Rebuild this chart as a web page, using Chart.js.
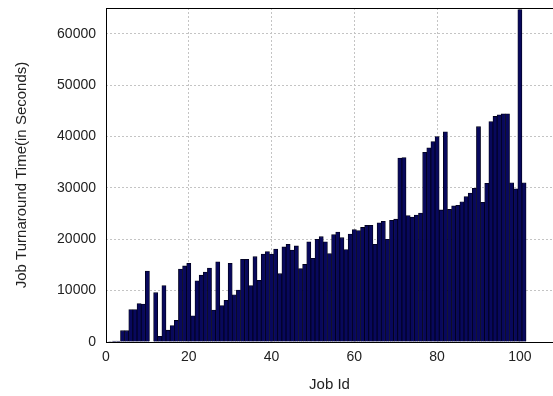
<!DOCTYPE html>
<html>
<head>
<meta charset="utf-8">
<script src="https://cdn.jsdelivr.net/npm/chart.js@4/dist/chart.umd.min.js"></script>
<style>
html,body{margin:0;padding:0;background:#fff;}
#wrap{width:553px;height:396px;position:relative;}
</style>
</head>
<body>
<div id="wrap"><canvas id="c" width="553" height="396"></canvas></div>
<script>
const jobIds = Array.from({length:101},(_,i)=>i+1);
const turnaround = [
  100, 200, 200, 2200, 2200, 6300, 6300, 7500, 7400, 13800,
  0, 9600, 1100, 11000, 2300, 3200, 4200, 14200, 14800, 15300,
  5100, 11900, 13000, 13600, 14400, 6200, 15600, 7100, 8100, 15300,
  9200, 10100, 16100, 16100, 11000, 16600, 12000, 17100, 17600, 17100,
  18100, 13300, 18500, 19000, 17900, 18700, 14300, 15100, 19500, 16300,
  20000, 20500, 19500, 17200, 20900, 21400, 20300, 18000, 21000, 21900,
  21700, 22300, 22700, 22700, 19000, 23200, 23500, 20000, 23700, 23900,
  35800, 35900, 24600, 24300, 24700, 25100, 36900, 37800, 39000, 40000,
  25700, 40900, 25800, 26500, 26600, 27300, 28300, 29000, 29900, 41900,
  27200, 30900, 42900, 43900, 44200, 44400, 44400, 31000, 29800, 64700,
  31000
];
const xTicks = [0, 20, 40, 60, 80, 100];
const yTicks = [0, 10000, 20000, 30000, 40000, 50000, 60000];

const framePlugin = {
  id: 'frame',
  afterDatasetsDraw(chart) {
    const a = chart.chartArea, ctx = chart.ctx;
    ctx.save();
    ctx.strokeStyle = '#000';
    ctx.lineWidth = 1;
    ctx.strokeRect(Math.round(a.left)+0.5, Math.round(a.top)+0.5, Math.round(a.right-a.left), Math.round(a.bottom-a.top));
    ctx.restore();
  }
};

const font = {family: "'Liberation Sans', Arial, sans-serif", size: 14};
const titleFont = {family: "'Liberation Sans', Arial, sans-serif", size: 15};

new Chart(document.getElementById('c'), {
  type: 'bar',
  data: {
    datasets: [{
      data: jobIds.map((id, i) => ({x: id, y: turnaround[i]})),
      backgroundColor: '#08085c',
      borderColor: '#000018',
      borderWidth: {top: 0.8, left: 0.8, right: 0.8, bottom: 0},
      borderSkipped: false,
      barPercentage: 1,
      categoryPercentage: 1
    }]
  },
  plugins: [framePlugin],
  options: {
    responsive: false,
    animation: false,
    devicePixelRatio: 1,
    layout: {padding: {top: 8, right: 0, left: 0, bottom: 0}},
    plugins: {legend: {display: false}, tooltip: {enabled: false}},
    scales: {
      x: {
        type: 'linear',
        min: 0,
        max: 108,
        offset: false,
        afterBuildTicks: s => { s.ticks = xTicks.map(v => ({value: v})); },
        afterFit: s => { s.height = 54; s.paddingRight = 0; },
        grid: {offset: false, color: '#c4c4c4', lineWidth: 1, drawTicks: false, z: -1},
        border: {display: false, dash: [2, 2]},
        ticks: {color: '#222', font: font, padding: 7, maxRotation: 0, autoSkip: false},
        title: {display: true, text: 'Job Id', color: '#222', font: titleFont, padding: {top: 0, bottom: 2}}
      },
      y: {
        min: 0,
        max: 65000,
        afterBuildTicks: s => { s.ticks = yTicks.map(v => ({value: v})); },
        afterFit: s => { s.width = 106; s.paddingTop = 0; s.paddingBottom = 0; },
        grid: {color: '#c4c4c4', lineWidth: 1, drawTicks: false, z: -1},
        border: {display: false, dash: [2, 2]},
        ticks: {color: '#222', font: font, padding: 10, callback: v => String(v)},
        title: {display: true, text: 'Job Turnaround Time(in Seconds)', color: '#222', font: titleFont, padding: {top: 13, bottom: 0}}
      }
    }
  }
});
</script>
</body>
</html>
